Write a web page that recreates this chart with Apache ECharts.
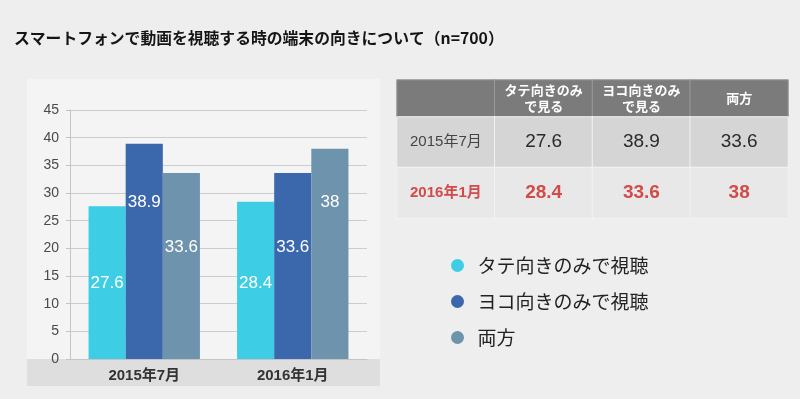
<!DOCTYPE html>
<html>
<head>
<meta charset="utf-8">
<script src="https://cdn.jsdelivr.net/npm/echarts@6/dist/echarts.min.js"></script>
<style>
  html, body { margin: 0; padding: 0; background: #eeeeee; }
  #chart { width: 800px; height: 399px; }
</style>
</head>
<body>
<div id="chart"></div>
<script>
// データ
var categories = ["2015年7月", "2016年1月"];
var seriesNames = ["タテ向きのみで視聴", "ヨコ向きのみで視聴", "両方"];
var tateValues = [27.6, 28.4];
var yokoValues = [38.9, 33.6];
var ryohoValues = [33.6, 38];
var tableHeaders = ["", "タテ向きのみ\nで見る", "ヨコ向きのみ\nで見る", "両方"];
var yTicks = [0, 5, 10, 15, 20, 25, 30, 35, 40, 45];

var font = "'Liberation Sans', 'Noto Sans CJK JP', sans-serif";
var colorList = ["#3dcde5", "#3b67ad", "#6e93ac"];
// ラベルの上下ずらし（元画像のラベル位置に合わせる）
var labelShift = [[1, 3], [-49, -19], [-19, -52]];

var chart = echarts.init(document.getElementById("chart"));

function barSeries(i, values) {
  return {
    name: seriesNames[i],
    type: "bar",
    xAxisIndex: 0,
    yAxisIndex: 0,
    barGap: "0%",
    barCategoryGap: "25%",
    itemStyle: { color: colorList[i] },
    data: values.map(function (v, j) {
      return {
        value: v,
        label: { offset: [0, labelShift[i][j]] },
      };
    }),
    label: {
      show: true,
      position: "inside",
      color: "#ffffff",
      fontSize: 17,
      fontFamily: font,
      fontWeight: 500,
    },
  };
}

// 表のセル
var bodyValues = [tateValues, yokoValues, ryohoValues];
var rowBg = ["#d5d5d5", "#e8e8e8"];
var rowText = ["#2a2a2a", "#d24a4a"];
var headerData = tableHeaders.map(function (h, c) {
  return [c, 0, 0];
});
var bodyData = [];
categories.forEach(function (cat, r) {
  for (var c = 0; c < 4; c++) {
    bodyData.push({
      value: [c, r, c == 0 ? 0 : bodyValues[c - 1][r]],
      itemStyle: { color: rowBg[r] },
      label: {
        color: c == 0 && r == 0 ? "#444444" : rowText[r],
        fontSize: c == 0 ? 15 : 19,
        fontWeight: r == 1 ? "bold" : "normal",
      },
    });
  }
});

var option = {
  backgroundColor: "#eeeeee",
  title: {
    text: "スマートフォンで動画を視聴する時の端末の向きについて（n=700）",
    left: 9,
    top: 25,
    textStyle: {
      fontSize: 15.8,
      fontWeight: "bold",
      color: "#151515",
      fontFamily: "'Noto Sans CJK JP', sans-serif",
    },
  },
  graphic: [
    {
      type: "rect",
      z: -10,
      shape: { x: 27, y: 79, width: 353, height: 307 },
      style: { fill: "#f4f4f4" },
    },
    {
      type: "rect",
      z: -9,
      shape: { x: 27, y: 359, width: 353, height: 27 },
      style: { fill: "#dedede" },
    },
  ],
  legend: {
    data: seriesNames,
    orient: "vertical",
    left: 446,
    top: 251,
    icon: "circle",
    itemWidth: 30,
    itemHeight: 13,
    itemGap: 17,
    textStyle: {
      fontSize: 19,
      color: "#222222",
      fontFamily: "'Noto Sans CJK JP', sans-serif",
    },
  },
  grid: [
    { left: 70, top: 110, width: 297, height: 249 },
    { left: 397, top: 80, width: 391, height: 37 },
    { left: 397, top: 117, width: 391, height: 101 },
  ],
  xAxis: [
    {
      type: "category",
      gridIndex: 0,
      data: categories,
      axisLine: { lineStyle: { color: "#c4c4c4" } },
      axisTick: { show: false },
      axisLabel: {
        fontSize: 15,
        fontWeight: "bold",
        color: "#333333",
        margin: 9,
        fontFamily: font,
      },
    },
    {
      type: "category",
      gridIndex: 1,
      data: tableHeaders,
      show: false,
    },
    {
      type: "category",
      gridIndex: 2,
      data: tableHeaders,
      show: false,
    },
  ],
  yAxis: [
    {
      type: "value",
      gridIndex: 0,
      min: yTicks[0],
      max: yTicks[yTicks.length - 1],
      interval: 5,
      axisLine: { show: true, lineStyle: { color: "#c4c4c4" } },
      axisTick: { show: true, length: 4, lineStyle: { color: "#c4c4c4" } },
      splitLine: { lineStyle: { color: "#cdcdcd" } },
      axisLabel: {
        fontSize: 14,
        color: "#4a4a4a",
        margin: 11,
        fontFamily: font,
      },
    },
    {
      type: "category",
      gridIndex: 1,
      data: ["header"],
      show: false,
    },
    {
      type: "category",
      gridIndex: 2,
      data: categories,
      inverse: true,
      show: false,
    },
  ],
  series: [
    barSeries(0, tateValues),
    barSeries(1, yokoValues),
    barSeries(2, ryohoValues),
    {
      type: "heatmap",
      xAxisIndex: 1,
      yAxisIndex: 1,
      data: headerData,
      itemStyle: { color: "#7b7b7b", borderColor: "#9a9a9a", borderWidth: 1 },
      label: {
        show: true,
        color: "#ffffff",
        fontSize: 13,
        fontWeight: "bold",
        lineHeight: 16,
        fontFamily: "'Noto Sans CJK JP', sans-serif",
        formatter: function (p) {
          return tableHeaders[p.value[0]];
        },
      },
      emphasis: { disabled: true },
    },
    {
      type: "heatmap",
      xAxisIndex: 2,
      yAxisIndex: 2,
      data: bodyData,
      itemStyle: { borderColor: "#f2f2f2", borderWidth: 1 },
      label: {
        show: true,
        fontFamily: font,
        formatter: function (p) {
          return p.value[0] == 0 ? categories[p.value[1]] : p.value[2];
        },
      },
      emphasis: { disabled: true },
    },
  ],
};

chart.setOption(option);
</script>
</body>
</html>
